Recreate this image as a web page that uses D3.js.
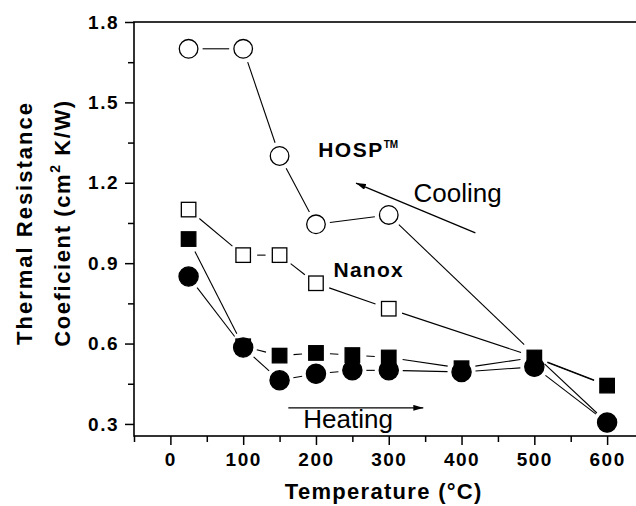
<!DOCTYPE html>
<html>
<head>
<meta charset="utf-8">
<script src="https://cdn.jsdelivr.net/npm/d3@7"></script>
<style>
  body { margin: 0; background: #fff; }
  text { font-family: "Liberation Sans", Arial, sans-serif; fill: #000; }
</style>
</head>
<body>
<div id="chart"></div>
<script>
// Data
const hospTemp = [25, 100, 150, 200, 300, 500, 600];
const hospValue = [1.70, 1.70, 1.30, 1.045, 1.08, 0.56, 0.305];

const nanoxTemp = [25, 100, 150, 200, 300, 500, 600];
const nanoxValue = [1.10, 0.93, 0.93, 0.825, 0.73, 0.55, 0.445];

const heatSquareTemp = [25, 100, 150, 200, 250, 300, 400, 500, 600];
const heatSquareValue = [0.99, 0.59, 0.555, 0.565, 0.557, 0.548, 0.508, 0.548, 0.443];

const heatCircleTemp = [25, 100, 150, 200, 250, 300, 400, 500, 600];
const heatCircleValue = [0.85, 0.585, 0.463, 0.487, 0.50, 0.50, 0.494, 0.513, 0.305];

const xMajor = [0, 100, 200, 300, 400, 500, 600];
const xMinor = [-50, 50, 150, 250, 350, 450, 550];
const yMajor = [0.3, 0.6, 0.9, 1.2, 1.5, 1.8];
const yMinor = [0.45, 0.75, 1.05, 1.35, 1.65];

const width = 636, height = 506;

const x = d3.scaleLinear().domain([-50, 650]).range([134, 643.5]);
const y = d3.scaleLinear().domain([0.255, 1.8]).range([436, 22]);

const svg = d3.select("#chart").append("svg")
    .attr("width", width)
    .attr("height", height);

// frame (right side falls outside the window, as in the original)
svg.append("rect")
    .attr("x", x(-50)).attr("y", y(1.8))
    .attr("width", x(650) - x(-50)).attr("height", y(0.255) - y(1.8))
    .attr("fill", "none").attr("stroke", "#000").attr("stroke-width", 1.6);

// axes
const tickFont = g => g.selectAll("text")
    .style("font-size", "19px").style("font-weight", "bold")
    .style("letter-spacing", "1.5px").attr("fill", "#000");

const xAxis = svg.append("g").attr("transform", `translate(0,${y(0.255)})`)
    .call(d3.axisBottom(x).tickValues(xMajor).tickSize(9).tickSizeOuter(0).tickPadding(8));
xAxis.select(".domain").remove();
xAxis.call(tickFont);
xAxis.selectAll("line").attr("stroke-width", 1.5);

const xAxisMinor = svg.append("g").attr("transform", `translate(0,${y(0.255)})`)
    .call(d3.axisBottom(x).tickValues(xMinor).tickSize(6).tickFormat(""));
xAxisMinor.select(".domain").remove();
xAxisMinor.selectAll("line").attr("stroke-width", 1.5);

const yAxis = svg.append("g").attr("transform", `translate(${x(-50)},0)`)
    .call(d3.axisLeft(y).tickValues(yMajor).tickSize(9).tickSizeOuter(0).tickPadding(6)
        .tickFormat(d3.format(".1f")));
yAxis.select(".domain").remove();
yAxis.call(tickFont);
yAxis.selectAll("line").attr("stroke-width", 1.5);

const yAxisMinor = svg.append("g").attr("transform", `translate(${x(-50)},0)`)
    .call(d3.axisLeft(y).tickValues(yMinor).tickSize(6).tickFormat(""));
yAxisMinor.select(".domain").remove();
yAxisMinor.selectAll("line").attr("stroke-width", 1.5);

// axis titles
svg.append("text")
    .attr("x", (x(-50) + x(650)) / 2 - 5).attr("y", 499)
    .attr("text-anchor", "middle")
    .style("font-size", "22px").style("font-weight", "bold").style("letter-spacing", "1.3px")
    .text("Temperature (°C)");

svg.append("text")
    .attr("transform", "translate(32,223) rotate(-90)")
    .attr("text-anchor", "middle")
    .style("font-size", "22px").style("font-weight", "bold").style("letter-spacing", "2px")
    .text("Thermal Resistance");

const yTitle2 = svg.append("text")
    .attr("transform", "translate(70,223) rotate(-90)")
    .attr("text-anchor", "middle")
    .style("font-size", "22px").style("font-weight", "bold").style("letter-spacing", "1.6px");
yTitle2.append("tspan").text("Coeficient (cm");
yTitle2.append("tspan").attr("dy", -10).style("font-size", "14px").text("2");
yTitle2.append("tspan").attr("dy", 10).text(" K/W)");

// connecting lines with small gaps around the symbols
function drawLines(xs, ys, gap) {
    const pts = xs.map((t, i) => [x(t), y(ys[i])]);
    const segs = [];
    for (let i = 0; i < pts.length - 1; i++) {
        const [x1, y1] = pts[i], [x2, y2] = pts[i + 1];
        const len = Math.hypot(x2 - x1, y2 - y1);
        if (len <= 2 * gap) continue;
        const ux = (x2 - x1) / len, uy = (y2 - y1) / len;
        segs.push([x1 + ux * gap, y1 + uy * gap, x2 - ux * gap, y2 - uy * gap]);
    }
    svg.append("g").selectAll("line")
        .data(segs)
        .join("line")
        .attr("x1", d => d[0]).attr("y1", d => d[1])
        .attr("x2", d => d[2]).attr("y2", d => d[3])
        .attr("stroke", "#000").attr("stroke-width", 1.1);
}

drawLines(hospTemp, hospValue, 14);
drawLines(nanoxTemp, nanoxValue, 14);
drawLines(heatSquareTemp, heatSquareValue, 14);
drawLines(heatCircleTemp, heatCircleValue, 14);

// symbols
function drawCircles(xs, ys, r, filled) {
    svg.append("g").selectAll("circle")
        .data(xs.map((t, i) => [t, ys[i]]))
        .join("circle")
        .attr("cx", d => x(d[0])).attr("cy", d => y(d[1])).attr("r", r)
        .attr("fill", filled ? "#000" : "#fff")
        .attr("stroke", "#000").attr("stroke-width", 1.3);
}
function drawSquares(xs, ys, s, filled) {
    svg.append("g").selectAll("rect")
        .data(xs.map((t, i) => [t, ys[i]]))
        .join("rect")
        .attr("x", d => x(d[0]) - s / 2).attr("y", d => y(d[1]) - s / 2)
        .attr("width", s).attr("height", s)
        .attr("fill", filled ? "#000" : "#fff")
        .attr("stroke", "#000").attr("stroke-width", 1.3);
}

// open symbols at 500/600 sit under the heating ones and are not visible in the figure
const shown = t => t < 500;
drawCircles(hospTemp.filter(shown), hospValue.filter((v, i) => shown(hospTemp[i])), 9.3, false);
drawSquares(nanoxTemp.filter(shown), nanoxValue.filter((v, i) => shown(nanoxTemp[i])), 14.5, false);
drawSquares(heatSquareTemp, heatSquareValue, 14.5, true);
drawCircles(heatCircleTemp, heatCircleValue, 9.6, true);

// annotations
const hosp = svg.append("text")
    .attr("x", x(203)).attr("y", y(1.297))
    .style("font-size", "21px").style("font-weight", "bold").style("letter-spacing", "1.5px");
hosp.append("tspan").text("HOSP");
hosp.append("tspan").attr("dy", -9).style("font-size", "10px").style("letter-spacing", "0px").text("TM");

svg.append("text")
    .attr("x", x(224)).attr("y", y(0.849))
    .style("font-size", "21px").style("font-weight", "bold").style("letter-spacing", "1.3px")
    .text("Nanox");

svg.append("text")
    .attr("x", x(334)).attr("y", y(1.128))
    .style("font-size", "26px")
    .text("Cooling");

svg.append("text")
    .attr("x", x(182.5)).attr("y", y(0.285))
    .style("font-size", "26px")
    .text("Heating");

svg.append("defs").append("marker")
    .attr("id", "head")
    .attr("viewBox", "0 0 10 6")
    .attr("refX", 10).attr("refY", 3)
    .attr("markerWidth", 10).attr("markerHeight", 6)
    .attr("markerUnits", "userSpaceOnUse")
    .attr("orient", "auto")
    .append("path").attr("d", "M0,0 L10,3 L0,6 Z").attr("fill", "#000");

svg.append("line")
    .attr("x1", x(419)).attr("y1", y(1.013))
    .attr("x2", x(255)).attr("y2", y(1.199))
    .attr("stroke", "#000").attr("stroke-width", 1.3)
    .attr("marker-end", "url(#head)");

svg.append("line")
    .attr("x1", x(162)).attr("y1", y(0.36))
    .attr("x2", x(347.5)).attr("y2", y(0.36))
    .attr("stroke", "#000").attr("stroke-width", 1.3)
    .attr("marker-end", "url(#head)");
</script>
</body>
</html>
